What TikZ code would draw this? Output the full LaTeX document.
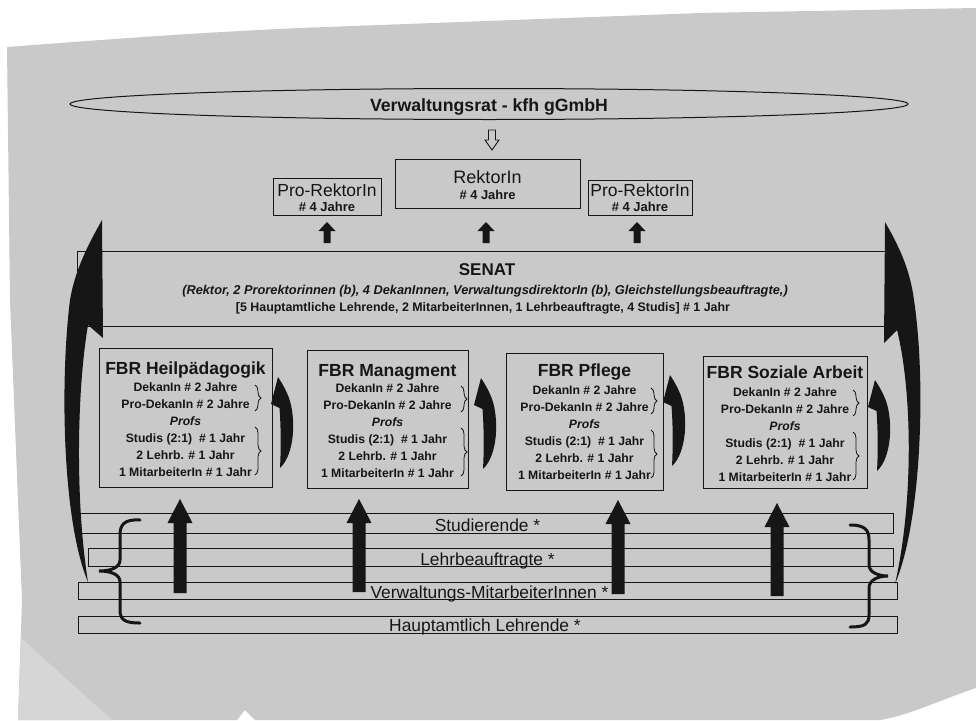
\documentclass[tikz,border=0pt]{standalone}
\usepackage{fontspec}
\setmainfont{Liberation Sans}
\usetikzlibrary{shapes.geometric,decorations.pathreplacing}
\definecolor{paper}{RGB}{201,201,201}
\definecolor{paperlight}{RGB}{214,214,214}
\definecolor{ink}{RGB}{22,22,22}
\newcommand{\fs}[2]{\fontsize{#1}{#2}\selectfont}
\newcommand{\blockup}[6]{\fill[ink] (#1,#2) -- (#1+#5,#2+#6) -- (#1+#4,#2+#6) -- (#1+#4,#3) -- (#1-#4,#3) -- (#1-#4,#2+#6) -- (#1-#5,#2+#6) -- cycle;}
\newcommand{\smallcurv}[2]{\begin{scope}[shift={(#1,#2)}]\fill[ink] (-1,0) .. controls (14,-14) and (15,-50) .. (8,-70) .. controls (5,-78) and (1,-85) .. (-3,-91) -- (-10,-64) -- (-1.5,-60) .. controls (0,-40) and (0,-18) .. (-1,0) -- cycle;\end{scope}}
\newcommand{\fbrbox}[9]{%
 \node[box, minimum width=#4pt, minimum height=#5pt] (#1) at (#2,#3) {};
 \node[fbrtitle] (#1-t) at (#2,#7+6.3) {#6};
 \node[sub] (#1-a) at (#2,#8+4.3) {DekanIn \# 2 Jahre};
 \node[sub] (#1-b) at (#2,#8+21.3) {Pro-DekanIn \# 2 Jahre};
 \node[sub] (#1-c) at (#2,#8+38.3) {\textit{Profs}};
 \node[sub] (#1-d) at (#2,#8+55.3) {Studis (2:1)\ \ \# 1 Jahr};
 \node[sub] (#1-e) at (#2,#8+72.3) {2 Lehrb. \# 1 Jahr};
 \node[sub] (#1-f) at (#2,#8+89.3) {1 MitarbeiterIn \# 1 Jahr};
 \draw[brc] (#9,#8-2) -- (#9,#8+24);
 \draw[brc] (#9,#8+40) -- (#9,#8+88);
}
\begin{document}
\begin{tikzpicture}[x=1pt,y=-1pt,
  box/.style={draw=ink, line width=1pt, inner sep=0pt},
  txt/.style={text=ink, inner sep=0pt, anchor=base},
  fbrtitle/.style={txt, font=\bfseries\fs{17.5}{20}},
  sub/.style={txt, font=\bfseries\fs{12.2}{14}},
  bartxt/.style={txt, font=\fs{17.4}{20}},
  brc/.style={draw=ink, line width=0.8pt, decorate, decoration={brace, amplitude=6pt}},
  bigbrace/.style={draw=ink, line width=3pt, line cap=round}]
\useasboundingbox (0,0) rectangle (976,720);
\fill[white] (0,0) rectangle (976,720);
% paper
\fill[paper] (7,47) .. controls (100,40) and (190,33) .. (300,28) -- (700,13) -- (976,8) -- (976,688) .. controls (940,700) and (910,715) .. (880,720) -- (255,720) -- (245,710) -- (237,720) -- (18,720) -- (22,600) -- (10,300) -- cycle;
\fill[paperlight] (21,638) -- (112,720) -- (18,720) -- cycle;

% Verwaltungsrat
\node[draw=ink, line width=1pt, ellipse, inner sep=0pt, minimum width=838pt, minimum height=31pt] (vr) at (489,104) {};
\node[txt, font=\bfseries\fs{17.7}{20}] (vrt) at (489,111.3) {Verwaltungsrat - kfh gGmbH};
% hollow arrow
\draw[ink, line width=0.9pt, fill=paper] (492,150) -- (499,140) -- (495.5,140) -- (495.5,130) -- (488.5,130) -- (488.5,140) -- (485,140) -- cycle;

% Rektorat
\node[box, minimum width=185pt, minimum height=49pt] (rek) at (487.5,183.5) {};
\node[txt, font=\fs{18}{20}] (rekt) at (487.5,183.4) {RektorIn};
\node[txt, font=\bfseries\fs{12.9}{14}] (rekj) at (487.5,199.6) {\# 4 Jahre};
\node[box, minimum width=108pt, minimum height=37pt] (prl) at (327,196.5) {};
\node[txt, font=\fs{17.5}{20}] (prlt) at (327,196.3) {Pro-RektorIn};
\node[txt, font=\bfseries\fs{13}{14}] (prlj) at (327,211.7) {\# 4 Jahre};
\node[box, minimum width=104pt, minimum height=35pt] (prr) at (640,197.5) {};
\node[txt, font=\fs{17.5}{20}] (prrt) at (640,196.3) {Pro-RektorIn};
\node[txt, font=\bfseries\fs{13}{14}] (prrj) at (640,211.7) {\# 4 Jahre};

\blockup{327}{222}{243}{3.5}{8.5}{9}
\blockup{486}{222}{243}{3.5}{8.5}{9}
\blockup{637}{222}{243}{3.5}{8.5}{9}

% Senat
\node[box, minimum width=808pt, minimum height=75pt] (senat) at (481,288.5) {};
\node[txt, font=\bfseries\fs{17}{20}] (senatt) at (487,275) {SENAT};
\node[txt, font=\bfseries\itshape\fs{12.8}{14}] (senat2) at (485,294.5) {(Rektor, 2 Prorektorinnen (b), 4 DekanInnen, VerwaltungsdirektorIn (b), Gleichstellungsbeauftragte,)};
\node[txt, font=\bfseries\fs{12.4}{14}] (senat3) at (483,311.4) {[5 Hauptamtliche Lehrende, 2 MitarbeiterInnen, 1 Lehrbeauftragte, 4 Studis] \# 1 Jahr};

% Fachbereichsraete
\fbrbox{f1}{185.5}{417.5}{173}{139}{FBR Heilpädagogik}{368}{387}{255}
\fbrbox{f2}{387.5}{419}{161}{138}{FBR Managment}{370}{388}{461}
\fbrbox{f3}{584.5}{421.5}{157}{137}{FBR Pflege}{370}{390}{651}
\fbrbox{f4}{785}{422}{164}{132}{FBR Soziale Arbeit}{372}{392}{853}

\smallcurv{281}{468}
\smallcurv{484}{469}
\smallcurv{673}{466}
\smallcurv{878}{471}

% Gruppen
\node[box, minimum width=813pt, minimum height=20pt] (stud) at (486.5,523) {};
\node[box, minimum width=805pt, minimum height=18pt] (lehr) at (490.5,557) {};
\node[box, minimum width=819pt, minimum height=17pt] (verw) at (487.5,590.5) {};
\node[box, minimum width=819pt, minimum height=17pt] (haupt) at (487.5,624.5) {};
\node[bartxt] (studt) at (487.5,531) {Studierende *};
\node[bartxt] (lehrt) at (487.5,565) {Lehrbeauftragte *};
\node[bartxt] (verwt) at (489.5,598.5) {Verwaltungs-MitarbeiterInnen *};
\node[bartxt] (hauptt) at (485,631.5) {Hauptamtlich Lehrende *};

\blockup{180}{499}{593}{6.5}{12.5}{24}
\blockup{359}{499}{592}{6.5}{12.5}{24}
\blockup{618}{500}{594}{6.5}{12.5}{24}
\blockup{777}{503}{596}{6.5}{12.5}{24}

% big braces
\draw[bigbrace] (140,520) .. controls (124,519) and (120,525) .. (120,535) -- (120,560) .. controls (120,568) and (110,571) .. (99,571) .. controls (110,571) and (120,574) .. (120,582) -- (120,610) .. controls (120,620) and (125,623) .. (140,623);
\draw[bigbrace] (850,525) .. controls (865,525) and (869,530) .. (869,540) -- (869,565) .. controls (869,572) and (878,576) .. (888,576) .. controls (878,576) and (869,580) .. (869,588) -- (869,615) .. controls (869,624) and (865,627) .. (850,627);

% big curved arrows
\fill[ink] (88,582) .. controls (62,520) and (60,380) .. (70,300) .. controls (75,270) and (88,245) .. (102,220) -- (103,338) -- (88,325) .. controls (77,390) and (75,500) .. (88,582) -- cycle;
\fill[ink] (895,584) .. controls (922,520) and (926,380) .. (914,300) .. controls (910,270) and (900,248) .. (885,222) -- (884,343) -- (897,330) .. controls (912,390) and (914,500) .. (895,584) -- cycle;
\end{tikzpicture}
\end{document}
